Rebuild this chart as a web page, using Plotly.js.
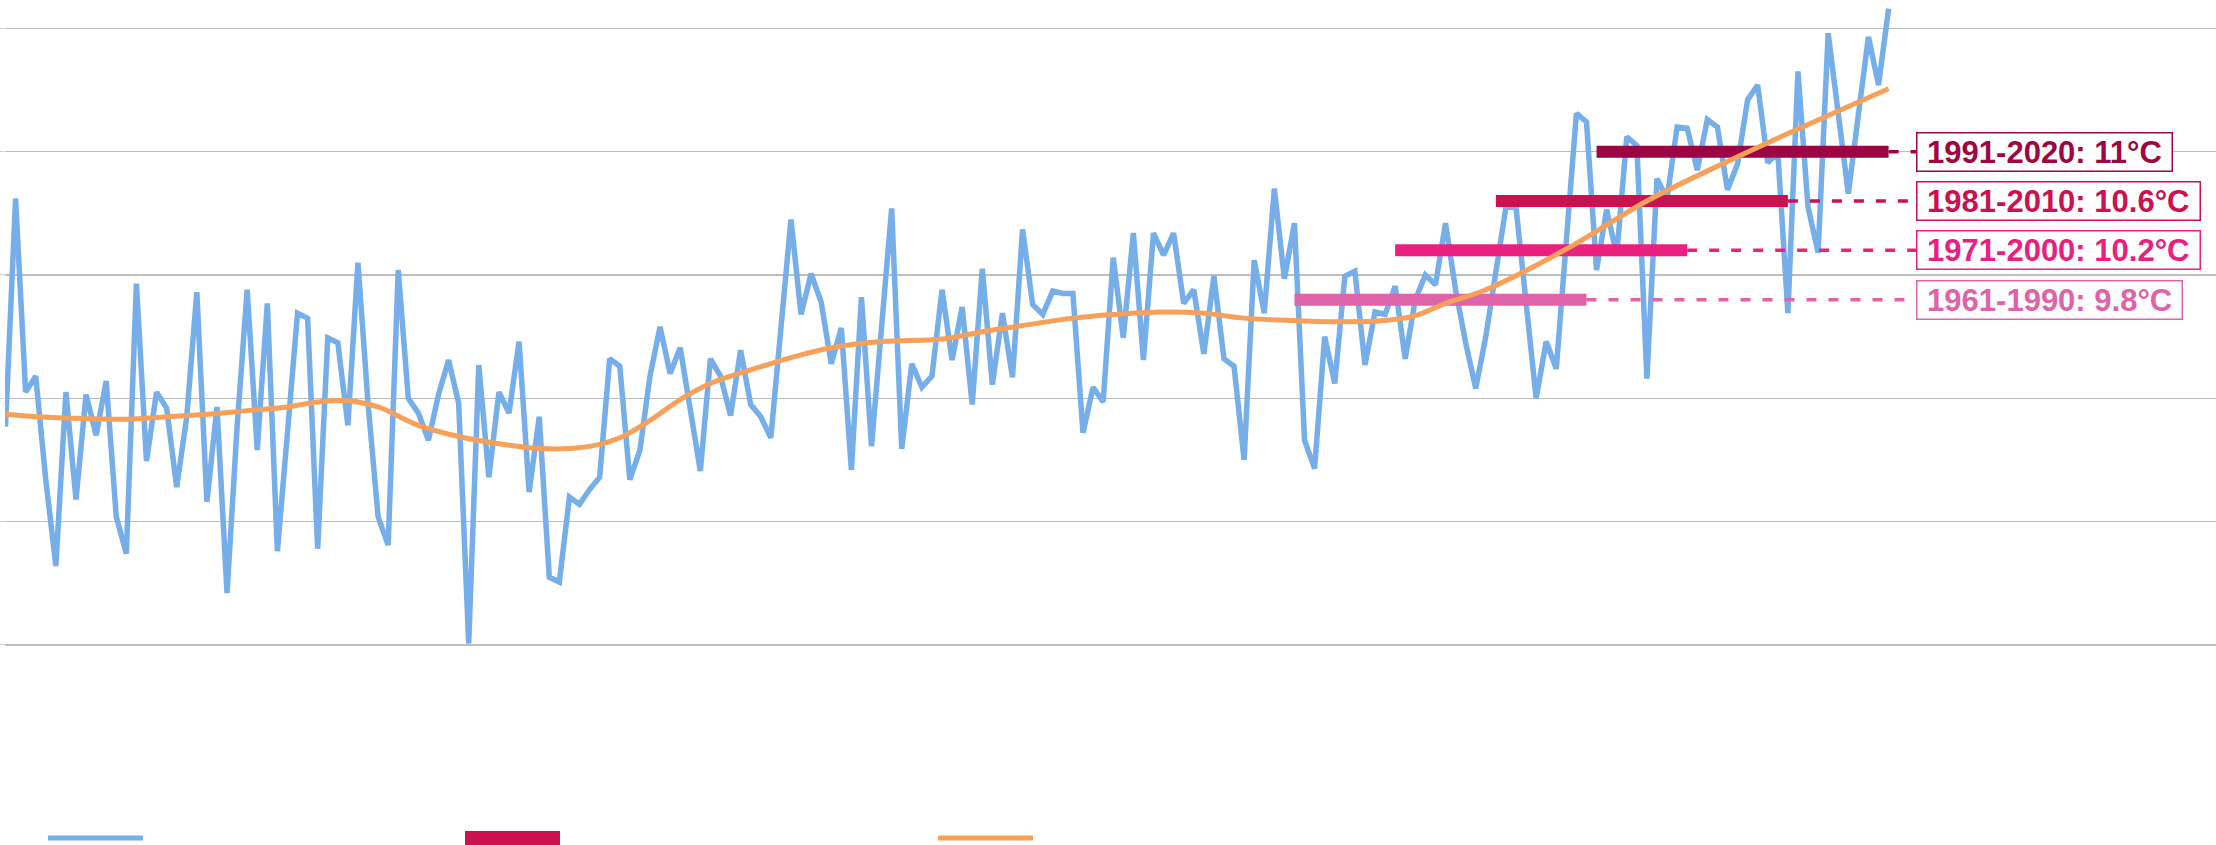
<!DOCTYPE html>
<html>
<head>
<meta charset="utf-8">
<script src="https://cdn.plot.ly/plotly-3.0.1.min.js"></script>
<style>html,body{margin:0;padding:0;background:#fff;}#chart{width:2216px;height:845px;}</style>
</head>
<body>
<div id="chart"></div>
<script>
// ---- data ----
const startYear = 1833;
const annualTemp = [
  8.77,10.62,9.05,9.18,8.34,7.64,9.05,8.18,9.03,8.70,
  9.14,8.04,7.74,9.93,8.49,9.05,8.92,8.28,8.85,9.86,
  8.16,8.93,7.42,8.77,9.88,8.58,9.77,7.76,8.72,9.69,
  9.65,7.78,9.49,9.45,8.78,10.10,8.96,8.04,7.81,10.04,
  9.00,8.88,8.66,9.03,9.31,8.96,7.01,9.27,8.36,9.05,
  8.88,9.46,8.24,8.85,7.55,7.51,8.20,8.14,8.26,8.36,
  9.32,9.26,8.34,8.58,9.18,9.58,9.20,9.41,8.91,8.41,
  9.32,9.18,8.86,9.39,8.95,8.85,8.68,9.61,10.45,9.68,
  10.01,9.78,9.28,9.57,8.42,9.82,8.61,9.58,10.54,8.59,
  9.28,9.09,9.18,9.88,9.31,9.74,8.95,10.05,9.11,9.69,
  9.17,10.37,9.76,9.68,9.87,9.85,9.85,8.72,9.09,8.97,
  10.14,9.49,10.34,9.31,10.34,10.16,10.34,9.77,9.88,9.36,
  9.99,9.32,9.26,8.50,10.12,9.69,10.70,9.97,10.42,8.66,
  8.43,9.50,9.12,9.99,10.03,9.27,9.70,9.68,9.91,9.32,
  9.80,10.00,9.92,10.42,9.88,9.45,9.08,9.50,10.05,10.55,
  10.55,9.75,9.00,9.46,9.24,10.28,11.31,11.24,10.04,10.53,
  10.16,11.12,11.05,9.16,10.78,10.62,11.20,11.19,10.85,11.26,
  11.20,10.69,10.90,11.42,11.54,10.91,10.99,9.69,11.65,10.55,
  10.18,11.96,11.30,10.66,11.30,11.93,11.54,12.16
];
const years = annualTemp.map((_, i) => startYear + i);

// smoothed trend
const trendYears = [1833,1836,1839,1845,1849,1853,1857,1861,1864,1867,1870,1874,1878,1883,1887,1891,1894,1897,1900,1903,1907,1911,1915,1920,1926,1930,1934,1939,1943,1948,1952,1956,1961,1966,1970,1973,1976,1980,1988,1996,2004,2012,2020];
const trendValues = [8.87,8.85,8.84,8.83,8.85,8.87,8.90,8.93,8.97,8.98,8.93,8.78,8.69,8.62,8.59,8.61,8.68,8.82,8.99,9.12,9.23,9.33,9.41,9.46,9.48,9.54,9.59,9.65,9.68,9.70,9.69,9.65,9.63,9.62,9.63,9.67,9.77,9.88,10.21,10.60,10.92,11.22,11.51];

// climate normal periods
const normalLabels = ["1961-1990", "1971-2000", "1981-2010", "1991-2020"];
const normalStart = [1961, 1971, 1981, 1991];
const normalEnd = [1990, 2000, 2010, 2020];
const normalValues = [9.8, 10.2, 10.6, 11];
const normalValueText = ["9.8", "10.2", "10.6", "11"];
const normalColors = ["#de63a9", "#e8217f", "#cc1151", "#9c0642"];

// ---- layout geometry ----
const W = 2216, H = 845;
const mL = 5, mR = 0, mT = 0, mB = 150;
const pxPerYear = 10.07;
const pxPerDeg = 123.33;
const plotW = W - mL - mR, plotH = H - mT - mB;
const xMin = startYear - 0.05;
const xMax = xMin + plotW / pxPerYear;
const yMax = 12 + 28.3 / pxPerDeg;
const yMin = yMax - plotH / pxPerDeg;
const labelX = xMin + (1916 - mL) / pxPerYear;

const traces = [];
traces.push({
  x: years, y: annualTemp, type: 'scatter', mode: 'lines',
  line: {color: '#76aee9', width: 5.5}, hoverinfo: 'x+y', showlegend: false
});
normalLabels.forEach((lab, k) => {
  traces.push({
    x: [normalEnd[k], labelX], y: [normalValues[k], normalValues[k]],
    type: 'scatter', mode: 'lines',
    line: {color: normalColors[k], width: 3.5, dash: '10px,12px'},
    hoverinfo: 'skip', showlegend: false
  });
  traces.push({
    x: [normalStart[k], normalEnd[k]], y: [normalValues[k], normalValues[k]],
    type: 'scatter', mode: 'lines',
    line: {color: normalColors[k], width: 12},
    name: lab, showlegend: false
  });
});
traces.push({
  x: trendYears, y: trendValues, type: 'scatter', mode: 'lines',
  line: {color: '#f6a05a', width: 5, shape: 'spline', smoothing: 1.0},
  hoverinfo: 'skip', showlegend: false
});

const annotations = normalLabels.map((lab, k) => ({
  x: labelX, y: normalValues[k], xref: 'x', yref: 'y',
  xanchor: 'left', yanchor: 'middle', showarrow: false,
  text: '<b>\u00a0' + lab + ': ' + normalValueText[k] + '°C\u00a0</b>',
  font: {family: 'Liberation Sans, Arial, sans-serif', size: 31, color: normalColors[k]},
  bgcolor: '#ffffff', bordercolor: normalColors[k], borderwidth: 1.5, borderpad: 1
}));

// legend swatches (pixel -> paper)
const px2x = p => (p - mL) / plotW;
const py2y = p => (mT + plotH - p) / plotH;
const shapes = [
  {type: 'line', xref: 'paper', yref: 'paper', x0: px2x(48), x1: px2x(143), y0: py2y(838), y1: py2y(838), line: {color: '#76aee9', width: 5}},
  {type: 'rect', xref: 'paper', yref: 'paper', x0: px2x(465), x1: px2x(560), y0: py2y(845), y1: py2y(831), fillcolor: '#cc1151', line: {width: 0}},
  {type: 'line', xref: 'paper', yref: 'paper', x0: px2x(938), x1: px2x(1033), y0: py2y(838), y1: py2y(838), line: {color: '#f6a05a', width: 5}}
];

const layout = {
  width: W, height: H, autosize: false,
  margin: {l: mL, r: mR, t: mT, b: mB, pad: 0},
  paper_bgcolor: '#ffffff', plot_bgcolor: '#ffffff',
  showlegend: false,
  xaxis: {range: [xMin, xMax], showgrid: false, zeroline: false, showticklabels: false, ticks: '', showline: false},
  yaxis: {range: [yMin, yMax], tick0: 7, dtick: 1, showgrid: true, gridcolor: '#bdbdbd', gridwidth: 1.2,
          zeroline: false, showticklabels: false, ticks: 'outside', ticklen: 4, tickcolor: '#cfcfcf', showline: false},
  annotations: annotations,
  shapes: shapes
};

Plotly.newPlot('chart', traces, layout, {staticPlot: true, displayModeBar: false});
</script>
</body>
</html>
